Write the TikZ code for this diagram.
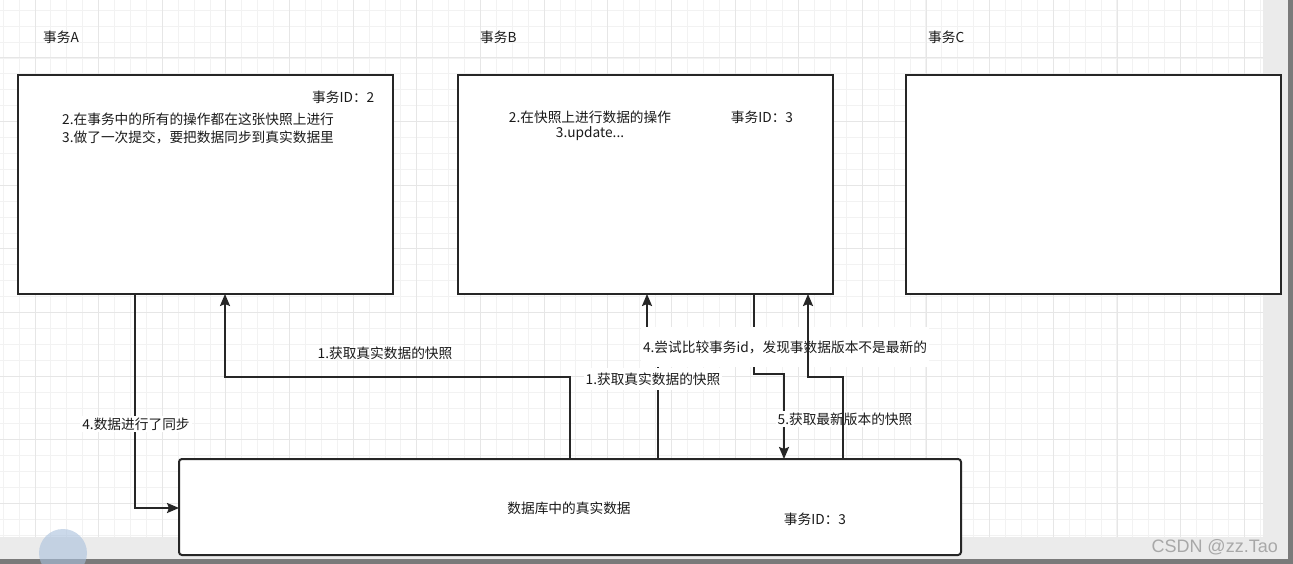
\documentclass[tikz,border=0pt]{standalone}
\usepackage{fontspec}
\setmainfont{Noto Sans CJK SC}
\newfontfamily\wmfont{Liberation Sans}
\usetikzlibrary{arrows.meta}
\definecolor{gridminor}{HTML}{F2F2F2}
\definecolor{gridmajor}{HTML}{E6E6E6}
\definecolor{panel}{HTML}{EBEBEB}
\definecolor{bar}{HTML}{7A7A7A}
\definecolor{ink}{HTML}{1A1A1A}
\definecolor{edgec}{HTML}{262626}
\definecolor{blob}{HTML}{A9C1DD}
\definecolor{wmgray}{HTML}{A8A8A8}
\begin{document}
\begin{tikzpicture}[x=1pt,y=-1pt,
  box/.style={draw=edgec, line width=2pt, fill=white, anchor=north west, inner sep=0pt, outer sep=0pt},
  txt/.style={font=\fontsize{13.7}{16}\selectfont, text=ink, inner sep=1pt},
  lbl/.style={txt, fill=white, inner xsep=2pt, inner ysep=2pt},
  conn/.style={draw=edgec, line width=2pt, -{Stealth[length=12pt,width=10pt,inset=2pt]}},
  minorline/.style={draw=gridminor, line width=1pt},
  majorline/.style={draw=gridmajor, line width=1pt}]
\useasboundingbox (0,0) rectangle (1293,564);
% background
\fill[white] (0,0) rectangle (1293,564);
\foreach \k in {0,...,79} \draw[minorline] ({3.2+15.91*\k},0) -- ({3.2+15.91*\k},537);
\foreach \k in {0,...,33} \draw[minorline] (0,{10.3+15.91*\k}) -- (1263,{10.3+15.91*\k});
\foreach \k in {0,...,19} \draw[majorline] ({35+63.65*\k},0) -- ({35+63.65*\k},537);
\foreach \k in {0,...,7} \draw[majorline] (0,{58+63.65*\k}) -- (1263,{58+63.65*\k});
\fill[panel] (0,537) rectangle (1293,564);
\fill[panel] (1263,0) rectangle (1293,564);
\fill[bar] (1288,0) rectangle (1293,564);
\fill[bar] (0,559) rectangle (1293,564);
\fill[blob, opacity=0.6] (63,553) circle (24pt);

% boxes
\node[box, minimum width=375pt, minimum height=219pt] (A) at (17.5,75) {};
\node[box, minimum width=375pt, minimum height=219pt] (B) at (458,75) {};
\node[box, minimum width=375pt, minimum height=219pt] (C) at (905.5,75) {};
\node[box, minimum width=782pt, minimum height=96pt, rounded corners=3pt] (DB) at (179,459) {};

% titles
\node[txt, anchor=west] (tA) at (42,37) {事务A};
\node[txt, anchor=west] (tB) at (479,37) {事务B};
\node[txt, anchor=west] (tC) at (927,37) {事务C};

% box texts
\node[txt, anchor=west] (idA) at (311,97) {事务ID：2};
\node[txt, anchor=west] (a2) at (61,119) {2.在事务中的所有的操作都在这张快照上进行};
\node[txt, anchor=west] (a3) at (61,137) {3.做了一次提交，要把数据同步到真实数据里};
\node[txt] (b2) at (590,117) {2.在快照上进行数据的操作};
\node[txt] (b3) at (590,134) {3.update...};
\node[txt] (idB) at (762,117) {事务ID：3};
\node[txt] (dbt) at (569,508) {数据库中的真实数据};
\node[txt] (dbid) at (815,519) {事务ID：3};

% coordinates for routing
\coordinate (pA1a) at (570,377);
\coordinate (pA1b) at (225,377);
\coordinate (pA4) at (135,508);
\coordinate (pB1a) at (658,350);
\coordinate (pB1b) at (647,350);
\coordinate (pE4a) at (754,374);
\coordinate (pE4b) at (784,374);
\coordinate (pE5a) at (843,377);
\coordinate (pE5b) at (808,377);

% connectors
\draw[conn] (DB.north -| pA1a) -- (pA1a) -- (pA1b) -- (A.south -| pA1b);
\node[txt] (lA1) at (385,353) {1.获取真实数据的快照};

\draw[conn] (A.south -| pA4) -- (pA4) -- (DB.west |- pA4);
\node[lbl] (lA4) at (136,424) {4.数据进行了同步};

\draw[conn] (DB.north -| pB1a) -- (pB1a) -- (pB1b) -- (B.south -| pB1b);
\node[lbl, minimum height=22pt] (lB1) at (653,379) {1.获取真实数据的快照};

\draw[conn] (B.south -| pE4a) -- (pE4a) -- (pE4b) -- (DB.north -| pE4b);
\node[lbl, minimum height=40pt] (l4) at (785,347) {4.尝试比较事务id，发现事数据版本不是最新的};
\node[lbl] (l5) at (845,419) {5.获取最新版本的快照};

\draw[conn] (DB.north -| pE5a) -- (pE5a) -- (pE5b) -- (B.south -| pE5b);

% watermark
\node[font=\wmfont\fontsize{18}{20}\selectfont, text=wmgray, anchor=east, inner sep=0pt] (wm) at (1278,547) {CSDN @zz.Tao};
\end{tikzpicture}
\end{document}
